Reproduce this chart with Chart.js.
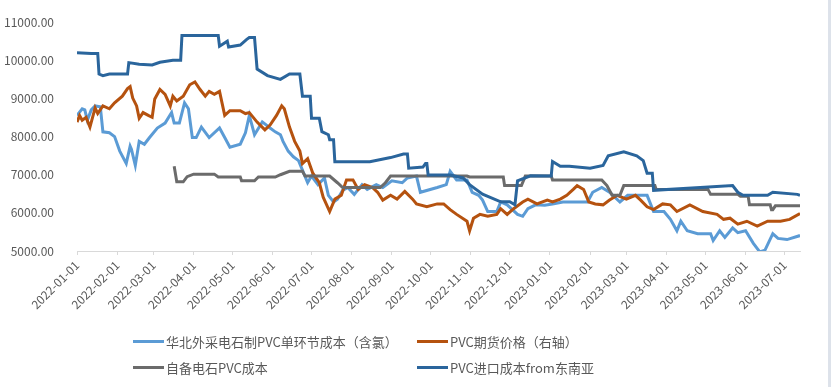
<!DOCTYPE html>
<html>
<head>
<meta charset="utf-8">
<script src="https://cdn.jsdelivr.net/npm/chart.js@4/dist/chart.umd.min.js"></script>
<style>
  body { margin: 0; background: #fff; font-family: 'Noto Sans CJK SC', 'Noto Sans', sans-serif; }
  #wrap { position: relative; width: 831px; height: 387px; overflow: hidden; }
  #edge { position: absolute; left: 828px; top: 0; width: 3px; height: 387px; background: #dde2ea; }
  .lg { position: absolute; display: flex; align-items: center; height: 20px; font-size: 13px; color: #595959; white-space: nowrap; }
  .lg i { display: inline-block; width: 31px; height: 3px; margin-right: 2px; }
</style>
</head>
<body>
<div id="wrap">
  <canvas id="c" width="828" height="387"></canvas>
  <div id="edge"></div>
  <div class="lg" style="left:133px;top:331px"><i style="background:#5b9bd5"></i>华北外采电石制PVC单环节成本（含氯）</div>
  <div class="lg" style="left:417px;top:331px"><i style="background:#b5520f"></i>PVC期货价格（右轴）</div>
  <div class="lg" style="left:133px;top:357px"><i style="background:#6b6b6b"></i>自备电石PVC成本</div>
  <div class="lg" style="left:417px;top:357px"><i style="background:#2a659c"></i>PVC进口成本from东南亚</div>
</div>
<script>
// x axis: one tick per month start
const MONTH_TICKS = ['2022-01-01', '2022-02-01', '2022-03-01', '2022-04-01', '2022-05-01', '2022-06-01',
  '2022-07-01', '2022-08-01', '2022-09-01', '2022-10-01', '2022-11-01', '2022-12-01',
  '2023-01-01', '2023-02-01', '2023-03-01', '2023-04-01', '2023-05-01', '2023-06-01', '2023-07-01'];
const X_END = '2023-07-13';

// 华北外采电石制PVC单环节成本（含氯）
const northDates = ['2022-01-01', '2022-01-05', '2022-01-07', '2022-01-09', '2022-01-12', '2022-01-15', '2022-01-19', '2022-01-21',
  '2022-01-26', '2022-01-30', '2022-02-03', '2022-02-08', '2022-02-11', '2022-02-12', '2022-02-15', '2022-02-18', '2022-02-22',
  '2022-02-26', '2022-03-04', '2022-03-10', '2022-03-15', '2022-03-17', '2022-03-21', '2022-03-25', '2022-03-28', '2022-03-31',
  '2022-04-03', '2022-04-07', '2022-04-13', '2022-04-21', '2022-04-25', '2022-04-29', '2022-05-07', '2022-05-11', '2022-05-14',
  '2022-05-18', '2022-05-24', '2022-05-30', '2022-06-03', '2022-06-07', '2022-06-09', '2022-06-13', '2022-06-17', '2022-06-21',
  '2022-06-24', '2022-06-28', '2022-07-01', '2022-07-06', '2022-07-11', '2022-07-14', '2022-07-18', '2022-07-21', '2022-07-25',
  '2022-07-29', '2022-08-03', '2022-08-09', '2022-08-13', '2022-08-20', '2022-08-25', '2022-09-01', '2022-09-09', '2022-09-13',
  '2022-09-20', '2022-09-23', '2022-10-06', '2022-10-13', '2022-10-16', '2022-10-21', '2022-10-29', '2022-11-02', '2022-11-07',
  '2022-11-10', '2022-11-14', '2022-11-21', '2022-11-24', '2022-11-29', '2022-12-07', '2022-12-11', '2022-12-15', '2022-12-21',
  '2022-12-28', '2023-01-03', '2023-01-11', '2023-01-30', '2023-02-03', '2023-02-10', '2023-02-16', '2023-02-24', '2023-03-02',
  '2023-03-17', '2023-03-22', '2023-03-30', '2023-04-04', '2023-04-09', '2023-04-12', '2023-04-17', '2023-04-25', '2023-05-05',
  '2023-05-07', '2023-05-12', '2023-05-16', '2023-05-22', '2023-05-26', '2023-06-01', '2023-06-07', '2023-06-12', '2023-06-16',
  '2023-06-22', '2023-06-26', '2023-07-03', '2023-07-13'];
const northCost = [8555, 8730, 8700, 8430, 8700, 8805, 8780, 8125,
  8100, 8000, 7620, 7295, 7750, 7670, 7245, 7875, 7800,
  7975, 8225, 8355, 8630, 8355, 8355, 8885, 8730, 7975,
  7975, 8250, 7975, 8225, 7975, 7720, 7800, 8100, 8555,
  8050, 8385, 8225, 8125, 8050, 7875, 7620, 7470, 7370,
  7120, 6790, 6965, 6740, 6915, 6460, 6285, 6360, 6590,
  6665, 6485, 6740, 6615, 6740, 6665, 6840, 6790, 6915,
  6965, 6540, 6665, 6740, 7090, 6865, 6865, 6540, 6460,
  6335, 6035, 6035, 6285, 6210, 5960, 5910, 6110, 6210,
  6200, 6235, 6285, 6285, 6540, 6665, 6540, 6285, 6460,
  6460, 6035, 6035, 5830, 5530, 5780, 5530, 5455, 5455,
  5275, 5530, 5355, 5605, 5480, 5530, 5200, 4975, 5025,
  5455, 5330, 5300, 5405];

// PVC期货价格（右轴）
const futuresDates = ['2022-01-01', '2022-01-03', '2022-01-05', '2022-01-08', '2022-01-11', '2022-01-15', '2022-01-17', '2022-01-21',
  '2022-01-26', '2022-01-30', '2022-02-05', '2022-02-09', '2022-02-11', '2022-02-13', '2022-02-16', '2022-02-18', '2022-02-21',
  '2022-02-25', '2022-02-28', '2022-03-02', '2022-03-06', '2022-03-10', '2022-03-14', '2022-03-16', '2022-03-19', '2022-03-24',
  '2022-03-29', '2022-04-02', '2022-04-06', '2022-04-10', '2022-04-13', '2022-04-17', '2022-04-21', '2022-04-25', '2022-04-29',
  '2022-05-07', '2022-05-11', '2022-05-14', '2022-05-20', '2022-05-26', '2022-05-30', '2022-06-04', '2022-06-08', '2022-06-10',
  '2022-06-14', '2022-06-18', '2022-06-22', '2022-06-24', '2022-06-28', '2022-07-02', '2022-07-07', '2022-07-10', '2022-07-15',
  '2022-07-19', '2022-07-24', '2022-07-28', '2022-08-02', '2022-08-06', '2022-08-11', '2022-08-17', '2022-08-21', '2022-08-25',
  '2022-08-31', '2022-09-05', '2022-09-11', '2022-09-17', '2022-09-20', '2022-09-28', '2022-10-06', '2022-10-11', '2022-10-16',
  '2022-10-21', '2022-10-29', '2022-10-31', '2022-11-03', '2022-11-08', '2022-11-14', '2022-11-21', '2022-11-24', '2022-11-29',
  '2022-12-04', '2022-12-11', '2022-12-15', '2022-12-22', '2022-12-30', '2023-01-03', '2023-01-09', '2023-01-14', '2023-01-19',
  '2023-01-22', '2023-01-27', '2023-01-31', '2023-02-05', '2023-02-11', '2023-02-16', '2023-02-22', '2023-03-01', '2023-03-08',
  '2023-03-12', '2023-03-17', '2023-03-22', '2023-03-29', '2023-04-04', '2023-04-09', '2023-04-19', '2023-04-29', '2023-05-10',
  '2023-05-15', '2023-05-20', '2023-05-26', '2023-06-02', '2023-06-10', '2023-06-18', '2023-06-28', '2023-07-05', '2023-07-13'];
const futuresPrice = [8380, 8555, 8430, 8505, 8250, 8755, 8605, 8805,
  8730, 8885, 9060, 9260, 9310, 9010, 8805, 8480, 8630,
  8555, 8505, 8985, 9235, 9110, 8805, 9060, 8935, 9060,
  9360, 9435, 9235, 9060, 9185, 9110, 9185, 8555, 8680,
  8680, 8605, 8630, 8380, 8175, 8305, 8555, 8805, 8730,
  8250, 7875, 7620, 7295, 7420, 7040, 6790, 6410, 6035,
  6360, 6460, 6865, 6865, 6615, 6740, 6665, 6540, 6335,
  6460, 6360, 6565, 6360, 6235, 6160, 6235, 6235, 6085,
  5960, 5780, 5530, 5860, 5960, 5910, 5960, 6110, 5960,
  6110, 6285, 6360, 6235, 6335, 6285, 6360, 6460, 6615,
  6715, 6615, 6285, 6235, 6210, 6335, 6460, 6360, 6460,
  6335, 6160, 6085, 6235, 6210, 6035, 6210, 6035, 5960,
  5830, 5860, 5705, 5780, 5655, 5780, 5780, 5830, 5985];

// 自备电石PVC成本
const captiveDates = ['2022-03-17', '2022-03-19', '2022-03-24', '2022-03-27', '2022-04-01', '2022-04-17', '2022-04-20', '2022-05-07',
  '2022-05-08', '2022-05-18', '2022-05-21', '2022-06-03', '2022-06-07', '2022-06-14', '2022-06-24', '2022-06-26', '2022-07-15',
  '2022-07-21', '2022-07-25', '2022-08-23', '2022-08-27', '2022-08-31', '2022-10-29', '2022-10-31', '2022-11-26', '2022-11-27',
  '2022-12-10', '2022-12-13', '2023-01-02', '2023-01-03', '2023-02-10', '2023-02-14', '2023-02-18', '2023-02-24', '2023-02-27',
  '2023-03-23', '2023-03-24', '2023-05-03', '2023-05-05', '2023-05-26', '2023-05-28', '2023-06-03', '2023-06-04', '2023-06-20',
  '2023-06-21', '2023-06-22', '2023-06-24', '2023-07-13'];
const captiveCost = [7220, 6815, 6815, 6950, 7015, 7015, 6940, 6940,
  6840, 6840, 6940, 6940, 7000, 7090, 7090, 6965, 6965,
  6790, 6665, 6665, 6790, 6965, 6965, 6940, 6940, 6715,
  6715, 6965, 6965, 6865, 6865, 6715, 6460, 6460, 6715,
  6715, 6615, 6615, 6485, 6485, 6435, 6435, 6210, 6210,
  6085, 6085, 6185, 6185];

// PVC进口成本from东南亚
const importDates = ['2022-01-01', '2022-01-12', '2022-01-17', '2022-01-18', '2022-01-21', '2022-01-26', '2022-02-09', '2022-02-10',
  '2022-02-18', '2022-02-28', '2022-03-06', '2022-03-16', '2022-03-22', '2022-03-23', '2022-04-20', '2022-04-21', '2022-04-27',
  '2022-04-28', '2022-05-07', '2022-05-12', '2022-05-14', '2022-05-18', '2022-05-20', '2022-05-28', '2022-06-07', '2022-06-14',
  '2022-06-22', '2022-06-24', '2022-06-30', '2022-07-01', '2022-07-07', '2022-07-09', '2022-07-14', '2022-07-15', '2022-07-18',
  '2022-07-19', '2022-08-15', '2022-08-31', '2022-09-10', '2022-09-13', '2022-09-14', '2022-09-25', '2022-09-27', '2022-09-28',
  '2022-09-29', '2022-10-16', '2022-10-26', '2022-10-31', '2022-11-10', '2022-11-24', '2022-12-01', '2022-12-05', '2022-12-07',
  '2022-12-17', '2023-01-02', '2023-01-03', '2023-01-09', '2023-01-16', '2023-02-01', '2023-02-11', '2023-02-15', '2023-02-27',
  '2023-03-09', '2023-03-14', '2023-03-17', '2023-03-21', '2023-03-22', '2023-04-27', '2023-05-22', '2023-05-26', '2023-05-30',
  '2023-06-18', '2023-06-22', '2023-07-11', '2023-07-13'];
const importCost = [10200, 10180, 10180, 9640, 9600, 9640, 9640, 9940,
  9900, 9880, 9950, 10000, 10000, 10650, 10650, 10370, 10500,
  10350, 10400, 10550, 10600, 10600, 9770, 9600, 9500, 9640,
  9640, 9060, 9060, 8480, 8480, 8130, 8050, 7920, 7920,
  7340, 7340, 7450, 7545, 7545, 7170, 7200, 7295, 7295,
  6990, 6990, 6915, 6740, 6490, 6290, 6290, 6210, 6840,
  6970, 6965, 7345, 7220, 7220, 7170, 7245, 7495, 7600,
  7495, 7370, 7040, 7040, 6590, 6665, 6715, 6540, 6460,
  6460, 6540, 6485, 6460];

const DAY = 86400000;
const BASE = Date.UTC(2022, 0, 1);
const dayOf = (s) => (Date.UTC(+s.slice(0, 4), +s.slice(5, 7) - 1, +s.slice(8, 10)) - BASE) / DAY;
const pts = (dates, vals) => dates.map((d, i) => ({ x: dayOf(d), y: vals[i] }));

const FONT = "'Noto Sans CJK SC', 'Noto Sans', sans-serif";
const TEXT = '#595959';
const AXIS_LINE = '#d9d9d9';

const line = (label, dates, vals, color, order) => ({
  label, data: pts(dates, vals), borderColor: color, backgroundColor: color,
  borderWidth: 3, pointRadius: 0, tension: 0, fill: false, order,
});

new Chart(document.getElementById('c'), {
  type: 'line',
  data: {
    datasets: [
      line('华北外采电石制PVC单环节成本（含氯）', northDates, northCost, '#5b9bd5', 4),
      line('PVC期货价格（右轴）', futuresDates, futuresPrice, '#b5520f', 3),
      line('自备电石PVC成本', captiveDates, captiveCost, '#6b6b6b', 2),
      line('PVC进口成本from东南亚', importDates, importCost, '#2a659c', 1),
    ],
  },
  options: {
    responsive: false,
    animation: false,
    layout: { padding: { left: 0, right: 28, top: 13, bottom: 0 } },
    plugins: { legend: { display: false }, tooltip: { enabled: false } },
    scales: {
      x: {
        type: 'linear',
        min: 0,
        max: dayOf(X_END),
        afterFit: (s) => { s.height = 136; },
        afterBuildTicks: (s) => { s.ticks = MONTH_TICKS.map((t) => ({ value: dayOf(t) })); },
        ticks: {
          autoSkip: false, minRotation: 45, maxRotation: 45, padding: 3,
          color: TEXT, font: { family: FONT, size: 12 },
          callback: (v, i) => MONTH_TICKS[i],
        },
        grid: { drawOnChartArea: false, drawTicks: true, tickLength: 4, color: AXIS_LINE },
        border: { color: AXIS_LINE },
      },
      y: {
        min: 5000,
        max: 11000,
        afterFit: (s) => { s.width = 77; },
        ticks: {
          stepSize: 1000, padding: 15, color: TEXT, font: { family: FONT, size: 12 },
          callback: (v) => v.toFixed(2),
        },
        grid: { display: false },
        border: { display: false },
      },
    },
  },
});
</script>
</body>
</html>
